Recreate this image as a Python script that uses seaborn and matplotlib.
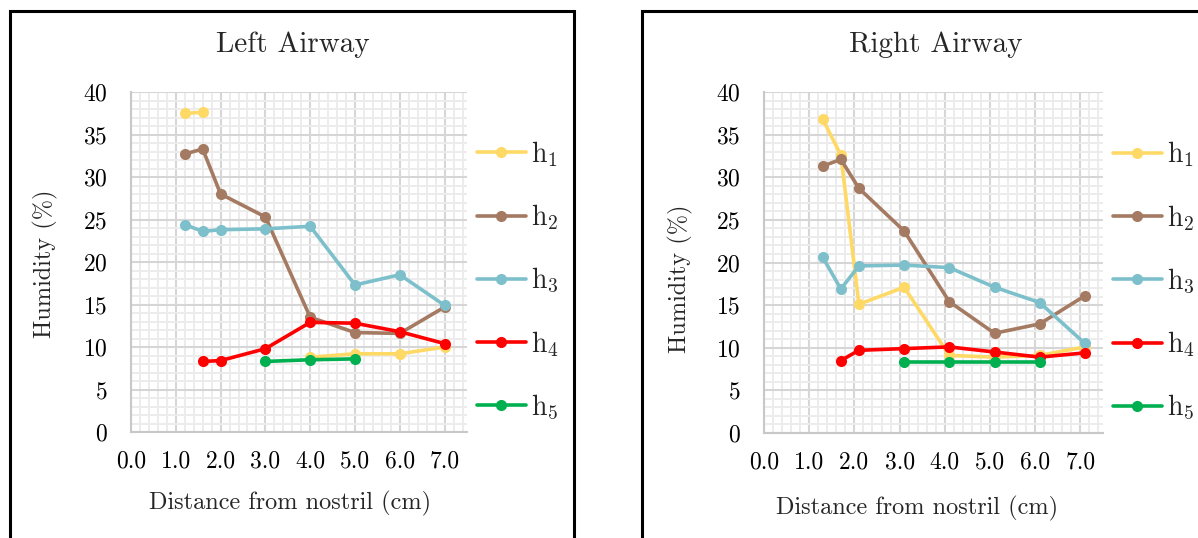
import numpy as np
import pandas as pd
import seaborn as sns
import matplotlib
matplotlib.use("Agg")
import matplotlib.pyplot as plt
from matplotlib.lines import Line2D
from matplotlib.patches import Rectangle
from matplotlib.ticker import MultipleLocator

# Measurement positions along the airway (cm)
left_x = [1.2, 1.6, 2.0, 3.0, 4.0, 5.0, 6.0, 7.0]
right_x = [1.3, 1.7, 2.1, 3.1, 4.1, 5.1, 6.1, 7.1]

nan = np.nan
# Humidity (%) for the left airway
left_h1 = [37.5, 37.6, nan, nan, 8.8, 9.2, 9.2, 10.0]
left_h2 = [32.7, 33.3, 28.0, 25.3, 13.5, 11.7, 11.6, 14.7]
left_h3 = [24.4, 23.6, 23.8, 23.9, 24.2, 17.3, 18.5, 14.9]
left_h4 = [nan, 8.3, 8.4, 9.8, 12.9, 12.8, 11.8, 10.4]
left_h5 = [nan, nan, nan, 8.3, 8.5, 8.6, nan, nan]

# Humidity (%) for the right airway
right_h1 = [36.8, 32.6, 15.1, 17.1, 9.1, 8.9, 9.1, 10.1]
right_h2 = [31.3, 32.1, 28.7, 23.7, 15.4, 11.7, 12.8, 16.1]
right_h3 = [20.6, 16.9, 19.6, 19.7, 19.4, 17.1, 15.3, 10.5]
right_h4 = [nan, 8.5, 9.7, 9.9, 10.1, 9.5, 8.9, 9.4]
right_h5 = [nan, nan, nan, 8.3, 8.3, 8.3, 8.3, nan]

series_names = ["h1", "h2", "h3", "h4", "h5"]
series_labels = [r"$\mathrm{h}_{1}$", r"$\mathrm{h}_{2}$", r"$\mathrm{h}_{3}$",
                 r"$\mathrm{h}_{4}$", r"$\mathrm{h}_{5}$"]
colors = ["#FFD966", "#A57A62", "#7DC0CC", "#FF0000", "#00B050"]

y_ticks = [0, 5, 10, 15, 20, 25, 30, 35, 40]
x_ticks = [0, 1, 2, 3, 4, 5, 6, 7]
x_tick_labels = ["0.0", "1.0", "2.0", "3.0", "4.0", "5.0", "6.0", "7.0"]


def to_long(x, columns):
    """Long-form table; each unbroken run of values gets its own unit id."""
    rows = []
    seg = 0
    for name, vals in zip(series_names, columns):
        prev_ok = False
        for xi, yi in zip(x, vals):
            ok = not np.isnan(yi)
            if ok:
                if not prev_ok:
                    seg += 1
                rows.append({"x": xi, "y": yi, "series": name, "seg": seg})
            prev_ok = ok
    return pd.DataFrame(rows)


sns.set_theme(style="white")
plt.rcParams["font.family"] = ["cmr10", "DejaVu Serif"]
plt.rcParams["mathtext.fontset"] = "cm"
plt.rcParams["axes.formatter.use_mathtext"] = True

W, H = 1198, 538
fig = plt.figure(figsize=(W / 100, H / 100), dpi=100)


def px_box(x0, x1, y0, y1):
    return [x0 / W, 1 - y1 / H, (x1 - x0) / W, (y1 - y0) / H]


ax_l = fig.add_axes(px_box(131, 467, 92, 432))
ax_r = fig.add_axes(px_box(764, 1103, 92, 433))

panels = [
    (ax_l, left_x, [left_h1, left_h2, left_h3, left_h4, left_h5]),
    (ax_r, right_x, [right_h1, right_h2, right_h3, right_h4, right_h5]),
]

LW = 2.6
MS = 8

for ax, xs, cols in panels:
    df = to_long(xs, cols)
    sns.lineplot(data=df, x="x", y="y", hue="series", units="seg",
                 estimator=None, sort=False, palette=dict(zip(series_names, colors)),
                 hue_order=series_names, marker="o", markersize=MS,
                 markeredgewidth=0, linewidth=LW, legend=False, ax=ax, zorder=3)
    ax.set_xlim(0, 7.5)
    ax.set_ylim(0, 40)
    ax.set_xticks(x_ticks)
    ax.set_xticklabels(x_tick_labels)
    ax.set_yticks(y_ticks)
    ax.xaxis.set_minor_locator(MultipleLocator(0.2))
    ax.yaxis.set_minor_locator(MultipleLocator(1))
    ax.grid(which="minor", color="#ececec", linewidth=1.4)
    ax.grid(which="major", color="#d6d6d6", linewidth=1.5)
    ax.set_axisbelow(True)
    ax.tick_params(axis="both", which="both", length=0, labelsize=17, colors="#000000")
    ax.tick_params(axis="y", pad=17)
    ax.tick_params(axis="x", pad=13)
    for s in ["top", "right"]:
        ax.spines[s].set_visible(False)
    for s in ["left", "bottom"]:
        ax.spines[s].set_color("#c8c8c8")
        ax.spines[s].set_linewidth(1.5)
    ax.set_xlabel("")
    ax.set_ylabel("")

    handles = [Line2D([0], [0], color=c, linewidth=LW, marker="o", markersize=MS,
                      markeredgewidth=0) for c in colors]
    ax.legend(handles, series_labels, loc="center left", bbox_to_anchor=(1.03, 0.446),
              frameon=False, fontsize=20, handlelength=1.75, handletextpad=0.2,
              labelspacing=1.22, borderpad=0, borderaxespad=0)

# Panel titles and axis labels
fig.text(293 / W, 1 - 45 / H, "Left Airway", ha="center", va="center", fontsize=21)
fig.text(936 / W, 1 - 45 / H, "Right Airway", ha="center", va="center", fontsize=21)
fig.text(45 / W, 1 - 264 / H, "Humidity (%)", ha="center", va="center", rotation=90, fontsize=17.5)
fig.text(680 / W, 1 - 279 / H, "Humidity (%)", ha="center", va="center", rotation=90, fontsize=17.5)
fig.text(290 / W, 1 - 503 / H, "Distance from nostril (cm)", ha="center", va="center", fontsize=17.5)
fig.text(917 / W, 1 - 508 / H, "Distance from nostril (cm)", ha="center", va="center", fontsize=17.5)

# Black frames around each panel
fig.patches.append(Rectangle((9.5 / W, -0.2), (574 - 9.5) / W, 1.2 - 10.5 / H,
                             transform=fig.transFigure, fill=False, edgecolor="black",
                             linewidth=2.2))
fig.patches.append(Rectangle((641.5 / W, -0.2), 0.6, 1.2 - 10.5 / H,
                             transform=fig.transFigure, fill=False, edgecolor="black",
                             linewidth=2.2))

fig.savefig("out.png", dpi=100)
